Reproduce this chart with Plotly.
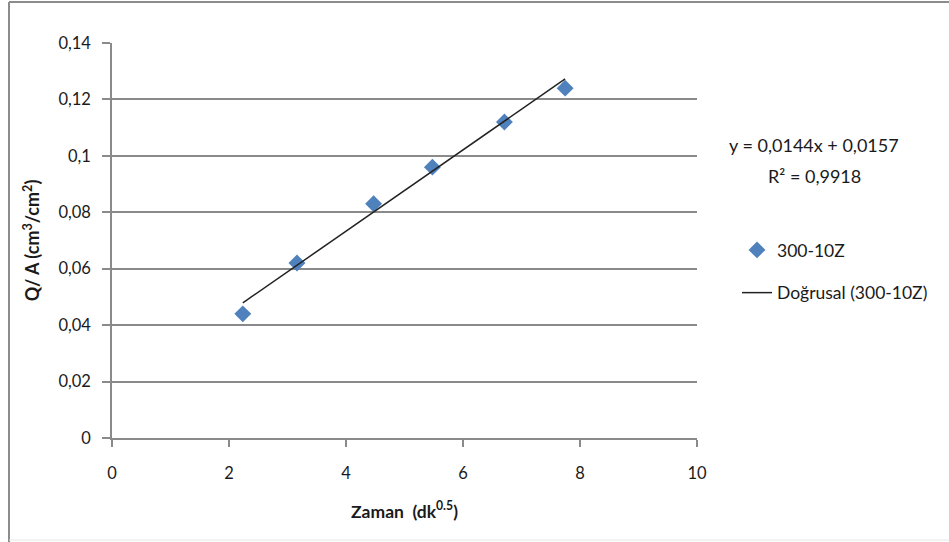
import plotly.graph_objects as go

# Measured data: Q/A against square root of time
zaman = [2.236, 3.162, 4.472, 5.477, 6.708, 7.746]
q_a = [0.044, 0.062, 0.083, 0.096, 0.112, 0.124]

# Linear fit as reported on the chart
slope = 0.0144
intercept = 0.0157
r_squared = "0,9918"

x_tick_vals = [0, 2, 4, 6, 8, 10]
x_tick_labels = ["0", "2", "4", "6", "8", "10"]
y_tick_vals = [0, 0.02, 0.04, 0.06, 0.08, 0.10, 0.12, 0.14]
y_tick_labels = ["0", "0,02", "0,04", "0,06", "0,08", "0,1", "0,12", "0,14"]

series_name = "300-10Z"
trend_name = "Doğrusal (300-10Z)"

FONT = "Lato, 'Open Sans', sans-serif"
GRID = "#8a8a8a"
TEXT = "#1a1a1a"

# Trend line spans the measured x range
trend_x = [min(zaman), max(zaman)]
trend_y = [slope * v + intercept for v in trend_x]

fig = go.Figure()
fig.add_trace(go.Scatter(
    x=zaman, y=q_a, mode="markers", name=series_name,
    marker=dict(symbol="diamond", size=13, color="#4F81BD"),
    legendgroup="a",
))
fig.add_trace(go.Scatter(
    x=trend_x, y=trend_y, mode="lines", name=trend_name,
    line=dict(color="#222222", width=1.5),
    legendgroup="b",
))

W, H = 949, 542
L, R, T, B = 112, 252, 43, 104
pw, ph = W - L - R, H - T - B


def px_to_paper_x(px):
    return (px - L) / pw


def px_to_paper_y(py):
    return (H - B - py) / ph


fig.update_layout(
    width=W, height=H,
    margin=dict(l=L, r=R, t=T, b=B),
    paper_bgcolor="white", plot_bgcolor="white",
    font=dict(family=FONT, size=16, color=TEXT),
    separators=",.",
    showlegend=True,
    legend=dict(
        x=px_to_paper_x(737), y=px_to_paper_y(232),
        xanchor="left", yanchor="top",
        font=dict(family=FONT, size=17.5, color=TEXT),
        tracegroupgap=17, bgcolor="rgba(0,0,0,0)",
    ),
    xaxis=dict(
        range=[0, 10], tickvals=x_tick_vals, ticktext=x_tick_labels,
        showgrid=False, zeroline=False,
        showline=True, linecolor=GRID, linewidth=1.5,
        ticks="outside", ticklen=7, tickcolor=GRID, tickwidth=1.5,
        ticklabelstandoff=12,
        tickfont=dict(size=16.5),
        title=dict(text="<b>Zaman  (dk<sup>0.5</sup>)</b>",
                   font=dict(family=FONT, size=17.5, color=TEXT), standoff=24),
    ),
    yaxis=dict(
        range=[0, 0.14], tickvals=y_tick_vals, ticktext=y_tick_labels,
        showgrid=True, gridcolor=GRID, gridwidth=1.5, zeroline=False,
        showline=True, linecolor=GRID, linewidth=1.5,
        ticks="outside", ticklen=8, tickcolor=GRID, tickwidth=1.5,
        ticklabelstandoff=8,
        tickfont=dict(size=16.5),
        title=dict(text="<b>Q/ A (cm<sup>3</sup>/cm<sup>2</sup>)</b>",
                   font=dict(family=FONT, size=18, color=TEXT), standoff=14),
    ),
    annotations=[
        dict(xref="paper", yref="paper", x=px_to_paper_x(814), y=px_to_paper_y(145),
             text="y = 0,0144x + 0,0157", showarrow=False,
             font=dict(family=FONT, size=18, color=TEXT), xanchor="center", yanchor="middle"),
        dict(xref="paper", yref="paper", x=px_to_paper_x(814), y=px_to_paper_y(176),
             text="R² = " + r_squared, showarrow=False,
             font=dict(family=FONT, size=18, color=TEXT), xanchor="center", yanchor="middle"),
    ],
    shapes=[
        # outer chart frame (left, top, bottom edges)
        dict(type="line", xref="paper", yref="paper",
             x0=px_to_paper_x(9), x1=px_to_paper_x(9), y0=px_to_paper_y(2), y1=px_to_paper_y(542),
             line=dict(color="#8c8c8c", width=2)),
        dict(type="line", xref="paper", yref="paper",
             x0=px_to_paper_x(9), x1=px_to_paper_x(949), y0=px_to_paper_y(2), y1=px_to_paper_y(2),
             line=dict(color="#8c8c8c", width=2)),
        dict(type="line", xref="paper", yref="paper",
             x0=px_to_paper_x(9), x1=px_to_paper_x(949), y0=px_to_paper_y(540), y1=px_to_paper_y(540),
             line=dict(color="#e6e6e6", width=1)),
    ],
)

fig.write_html("out.html")
